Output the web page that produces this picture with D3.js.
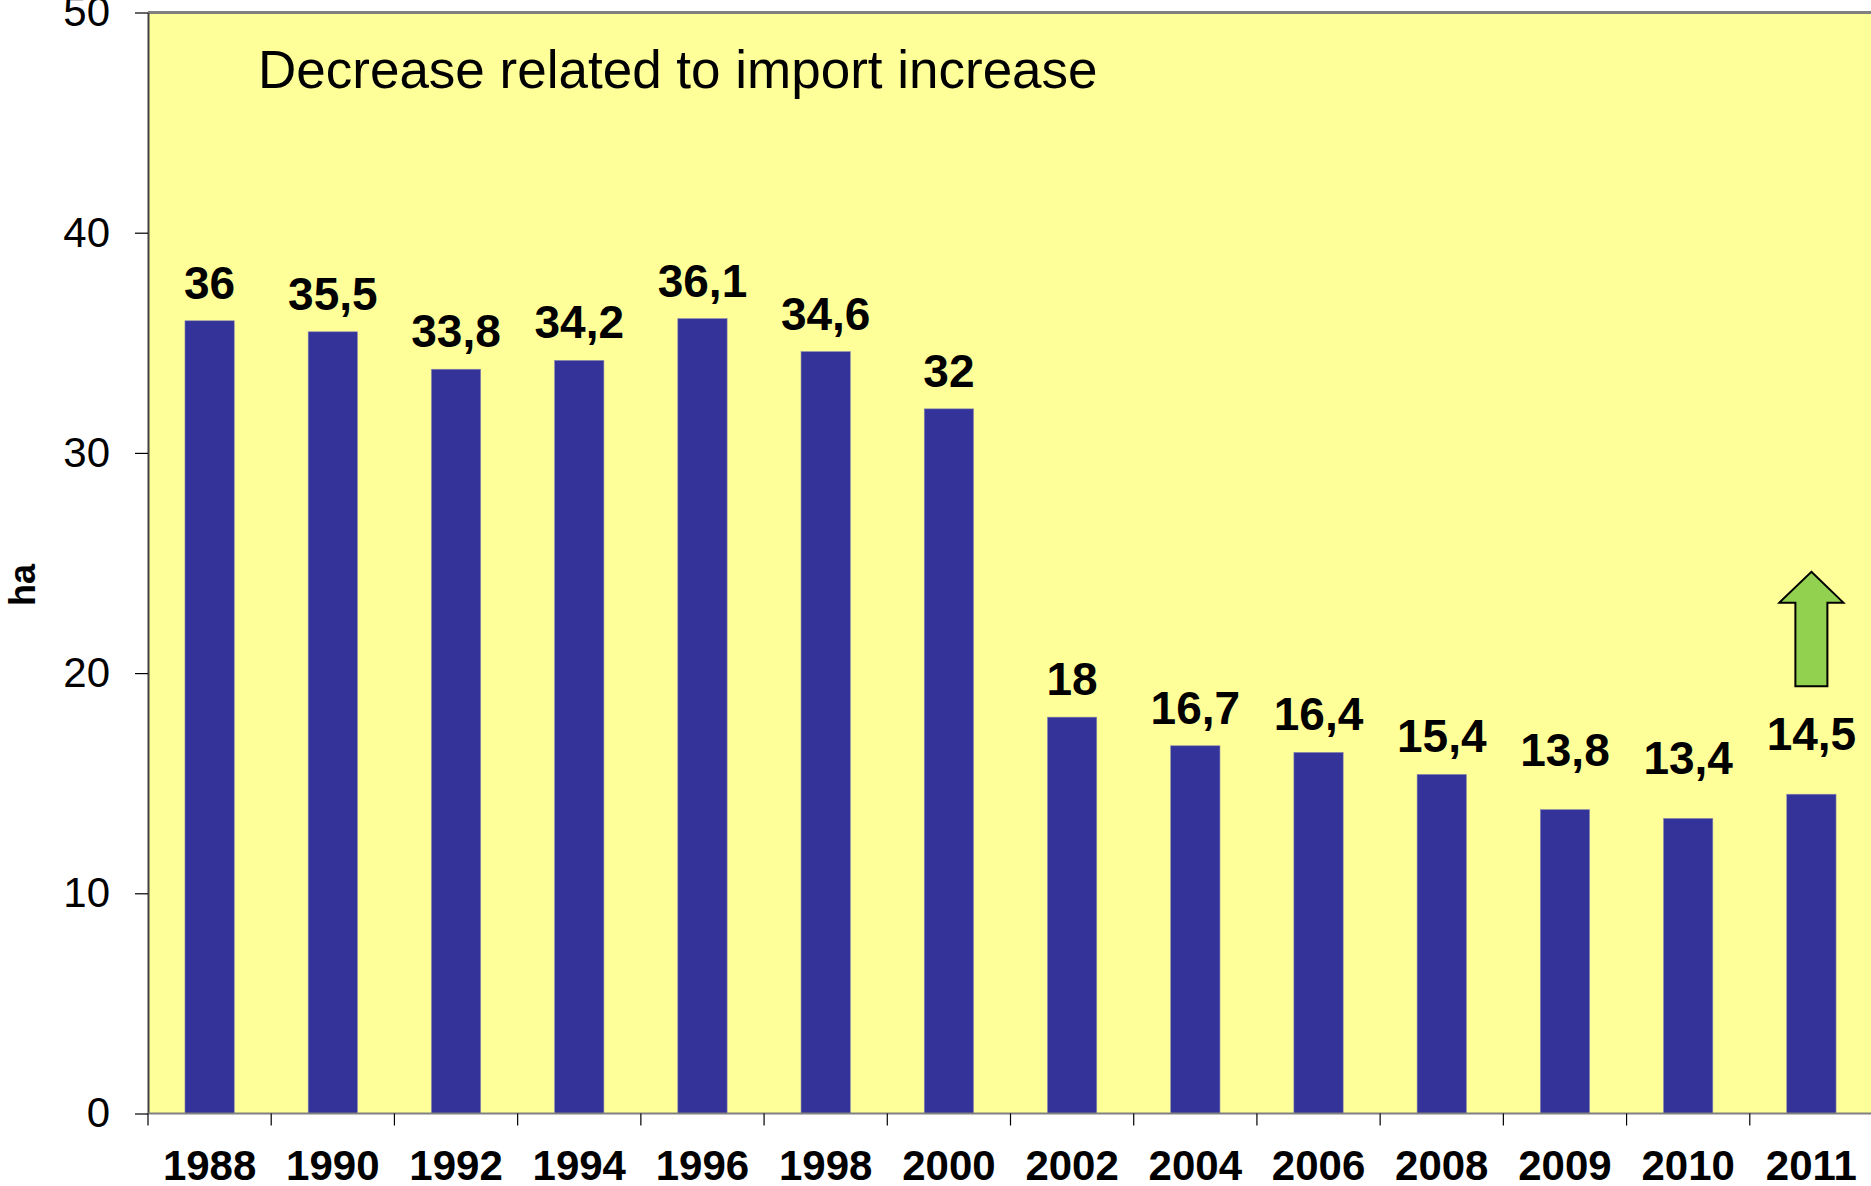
<!DOCTYPE html>
<html>
<head>
<meta charset="utf-8">
<script src="https://cdn.jsdelivr.net/npm/d3@7"></script>
<style>
  body { margin: 0; background: #fff; }
  svg { display: block; font-family: Arial, "Liberation Sans", sans-serif; }
</style>
</head>
<body>
<svg id="chart" width="1871" height="1186"></svg>
<script>
// data
var years = ["1988", "1990", "1992", "1994", "1996", "1998", "2000", "2002", "2004", "2006", "2008", "2009", "2010", "2011"];
var areaHa = [36, 35.5, 33.8, 34.2, 36.1, 34.6, 32, 18, 16.7, 16.4, 15.4, 13.8, 13.4, 14.5];
var yTicks = [0, 10, 20, 30, 40, 50];
var note = "Decrease related to import increase";

var barColor = "#333399",
    plotColor = "#FFFF99",
    arrowColor = "#92D050";

var margin = {top: 12.5, left: 148},
    plotW = 1725,
    plotH = 1101;

var svg = d3.select("#chart");

var x = d3.scaleBand()
    .domain(years)
    .range([0, plotW])
    .paddingInner(0.6)
    .paddingOuter(0.3);

var y = d3.scaleLinear()
    .domain([0, 50])
    .range([plotH, 0]);

var g = svg.append("g")
    .attr("transform", "translate(" + margin.left + "," + margin.top + ")");

// plot area
g.append("rect")
    .attr("width", plotW)
    .attr("height", plotH)
    .attr("fill", plotColor);

g.append("line")
    .attr("x1", 0).attr("x2", plotW)
    .attr("y1", 0).attr("y2", 0)
    .attr("stroke", "#808080")
    .attr("stroke-width", 3);

// bars
g.selectAll("rect.bar")
    .data(areaHa)
    .enter().append("rect")
    .attr("class", "bar")
    .attr("x", function(d, i) { return x(years[i]); })
    .attr("y", function(d) { return y(d); })
    .attr("width", x.bandwidth())
    .attr("height", function(d) { return plotH - y(d); })
    .attr("fill", barColor)
    .attr("stroke", "#8a8ab0")
    .attr("stroke-width", 0.6);

// value labels, the last three sit a bit higher in the original
var raised = ["2009", "2010", "2011"];
g.selectAll("text.val")
    .data(areaHa)
    .enter().append("text")
    .attr("class", "val")
    .attr("x", function(d, i) { return x(years[i]) + x.bandwidth() / 2; })
    .attr("y", function(d, i) { return y(d) - (raised.indexOf(years[i]) >= 0 ? 44 : 22); })
    .attr("text-anchor", "middle")
    .style("font-size", "46px")
    .style("font-weight", "bold")
    .text(function(d) { return String(d).replace(".", ","); });

// y axis
var yAxis = g.append("g")
    .call(d3.axisLeft(y).tickValues(yTicks).tickSize(13).tickPadding(25).tickSizeOuter(0));
yAxis.select(".domain").attr("stroke", "#404040").attr("stroke-width", 2);
yAxis.selectAll(".tick line").attr("stroke", "#000").attr("stroke-width", 1.2);
yAxis.selectAll(".tick text")
    .style("font-size", "42px")
    .attr("fill", "#000")
    .attr("font-family", "Arial, 'Liberation Sans', sans-serif");

// x axis: ticks between categories
var xAxis = g.append("g")
    .attr("transform", "translate(0," + plotH + ")");
xAxis.append("line")
    .attr("x1", 0).attr("x2", plotW)
    .attr("stroke", "#808080")
    .attr("stroke-width", 2);
xAxis.selectAll("line.sep")
    .data(years)
    .enter().append("line")
    .attr("class", "sep")
    .attr("x1", function(d) { return x(d) - x.step() * x.paddingOuter(); })
    .attr("x2", function(d) { return x(d) - x.step() * x.paddingOuter(); })
    .attr("y1", 0).attr("y2", 12)
    .attr("stroke", "#000")
    .attr("stroke-width", 1.2);
xAxis.selectAll("text")
    .data(years)
    .enter().append("text")
    .attr("x", function(d) { return x(d) + x.bandwidth() / 2; })
    .attr("y", 66)
    .attr("text-anchor", "middle")
    .style("font-size", "42px")
    .style("font-weight", "bold")
    .text(function(d) { return d; });

// axis title
svg.append("text")
    .attr("transform", "translate(35,585) rotate(-90)")
    .attr("text-anchor", "middle")
    .style("font-size", "36px")
    .style("font-weight", "bold")
    .text("ha");

// annotation text
g.append("text")
    .attr("x", 110)
    .attr("y", 75.5)
    .style("font-size", "53px")
    .text(note);

// green arrow above the 2011 bar
var ax = x("2011") + x.bandwidth() / 2,
    yTip = y(24.6), yHead = y(23.2), yBase = y(19.4);
g.append("path")
    .attr("d", d3.line()([
        [ax, yTip], [ax + 32, yHead], [ax + 16, yHead], [ax + 16, yBase],
        [ax - 16, yBase], [ax - 16, yHead], [ax - 32, yHead]
    ]) + "Z")
    .attr("fill", arrowColor)
    .attr("stroke", "#000")
    .attr("stroke-width", 2);
</script>
</body>
</html>
